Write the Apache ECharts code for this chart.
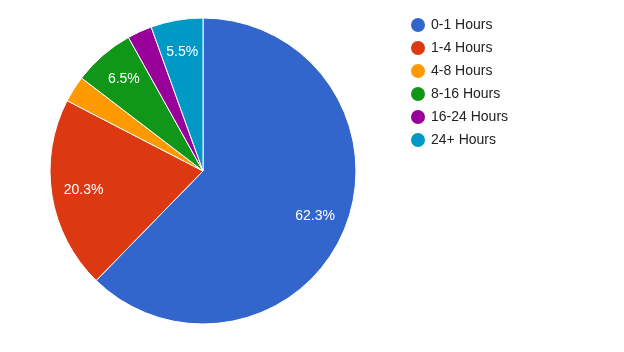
<!DOCTYPE html>
<html><head><meta charset="utf-8">
<script src="https://cdn.jsdelivr.net/npm/echarts@6/dist/echarts.min.js"></script>
<style>html,body{margin:0;padding:0;background:#fff}#c{width:624px;height:352px}</style>
</head><body><div id="c"></div>
<script>
const categories = ['0-1 Hours','1-4 Hours','4-8 Hours','8-16 Hours','16-24 Hours','24+ Hours'];
const values = [62.3, 20.3, 2.8, 6.5, 2.6, 5.5];
const colors = ['#3366cc','#dc3912','#ff9900','#109618','#990099','#0099c6'];

const data = categories.map((n,i)=>({name:n, value:values[i]}));
const chart = echarts.init(document.getElementById('c'), null, {renderer:'canvas'});
const fmt = p => (p.percent >= 5 ? p.percent.toFixed(1) + '%' : '');
chart.setOption({
  animation:false,
  color: colors,
  textStyle:{fontFamily:'Liberation Sans, Arial, sans-serif'},
  legend:{
    orient:'vertical', left:409, top:16, padding:0, itemWidth:16, itemHeight:16, itemGap:5,
    icon:'circle', data:categories,
    textStyle:{fontSize:14, lineHeight:16, color:'#222', fontFamily:'Liberation Sans, Arial, sans-serif'}
  },
  series:[
    {type:'pie', center:[203,171], radius:[0,153], startAngle:90, clockwise:true,
     data:data, label:{show:false}, labelLine:{show:false},
     itemStyle:{borderColor:'#fff', borderWidth:1}, emphasis:{disabled:true}},
    {type:'pie', center:[203,171], radius:[83,153], startAngle:90, clockwise:true, silent:true,
     data:data, labelLine:{show:false}, legendHoverLink:false,
     itemStyle:{color:'rgba(0,0,0,0)', borderWidth:0},
     label:{show:true, position:'inside', formatter:fmt, color:'#fff', fontSize:14,
            fontFamily:'Liberation Sans, Arial, sans-serif'}}
  ]
});
</script></body></html>
